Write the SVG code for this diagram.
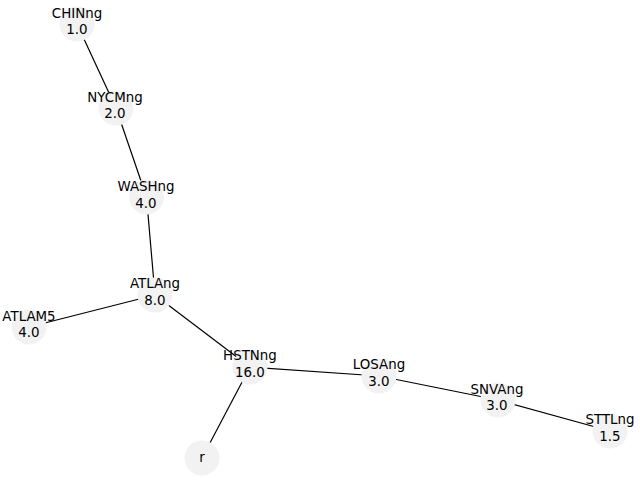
<svg xmlns="http://www.w3.org/2000/svg" width="640" height="480" viewBox="0 0 640 480">
<style>
.n circle{fill:#f2f2f2;stroke:none}
.n text{font-family:"DejaVu Sans",sans-serif;font-size:13.4px;fill:#000;text-anchor:middle}
#edges line{stroke:#000;stroke-width:1.2}
</style>
<rect width="640" height="480" fill="#fff"/>
<g id="edges">
<line x1="77" y1="24" x2="116" y2="108"/>
<line x1="116" y1="108" x2="146.5" y2="197"/>
<line x1="146.5" y1="197" x2="155" y2="295"/>
<line x1="155" y1="295" x2="29" y2="327"/>
<line x1="155" y1="295" x2="250" y2="367"/>
<line x1="250" y1="367" x2="202" y2="458"/>
<line x1="250" y1="367" x2="379" y2="376"/>
<line x1="379" y1="376" x2="498" y2="400"/>
<line x1="498" y1="400" x2="610" y2="431"/>
</g>
<g id="CHINng" class="n"><circle cx="77" cy="24" r="17.5"/><text x="77" y="18">CHINng</text><text x="77" y="34">1.0</text></g>
<g id="NYCMng" class="n"><circle cx="116" cy="108" r="17.5"/><text x="115" y="102">NYCMng</text><text x="115" y="118">2.0</text></g>
<g id="WASHng" class="n"><circle cx="146.5" cy="197" r="17.5"/><text x="146" y="191">WASHng</text><text x="146" y="208">4.0</text></g>
<g id="ATLAng" class="n"><circle cx="155" cy="295" r="17.5"/><text x="155" y="288">ATLAng</text><text x="155" y="305">8.0</text></g>
<g id="ATLAM5" class="n"><circle cx="29" cy="327" r="17.5"/><text x="29" y="321">ATLAM5</text><text x="29" y="337">4.0</text></g>
<g id="HSTNng" class="n"><circle cx="250" cy="367" r="17.5"/><text x="250" y="360">HSTNng</text><text x="250" y="377">16.0</text></g>
<g id="r" class="n"><circle cx="202" cy="458" r="17.5"/><text x="202" y="462">r</text></g>
<g id="LOSAng" class="n"><circle cx="379" cy="376" r="17.5"/><text x="379" y="369">LOSAng</text><text x="379" y="386">3.0</text></g>
<g id="SNVAng" class="n"><circle cx="498" cy="400" r="17.5"/><text x="497" y="394">SNVAng</text><text x="497" y="410">3.0</text></g>
<g id="STTLng" class="n"><circle cx="610" cy="431" r="17.5"/><text x="610" y="424">STTLng</text><text x="610" y="441">1.5</text></g>
</svg>
